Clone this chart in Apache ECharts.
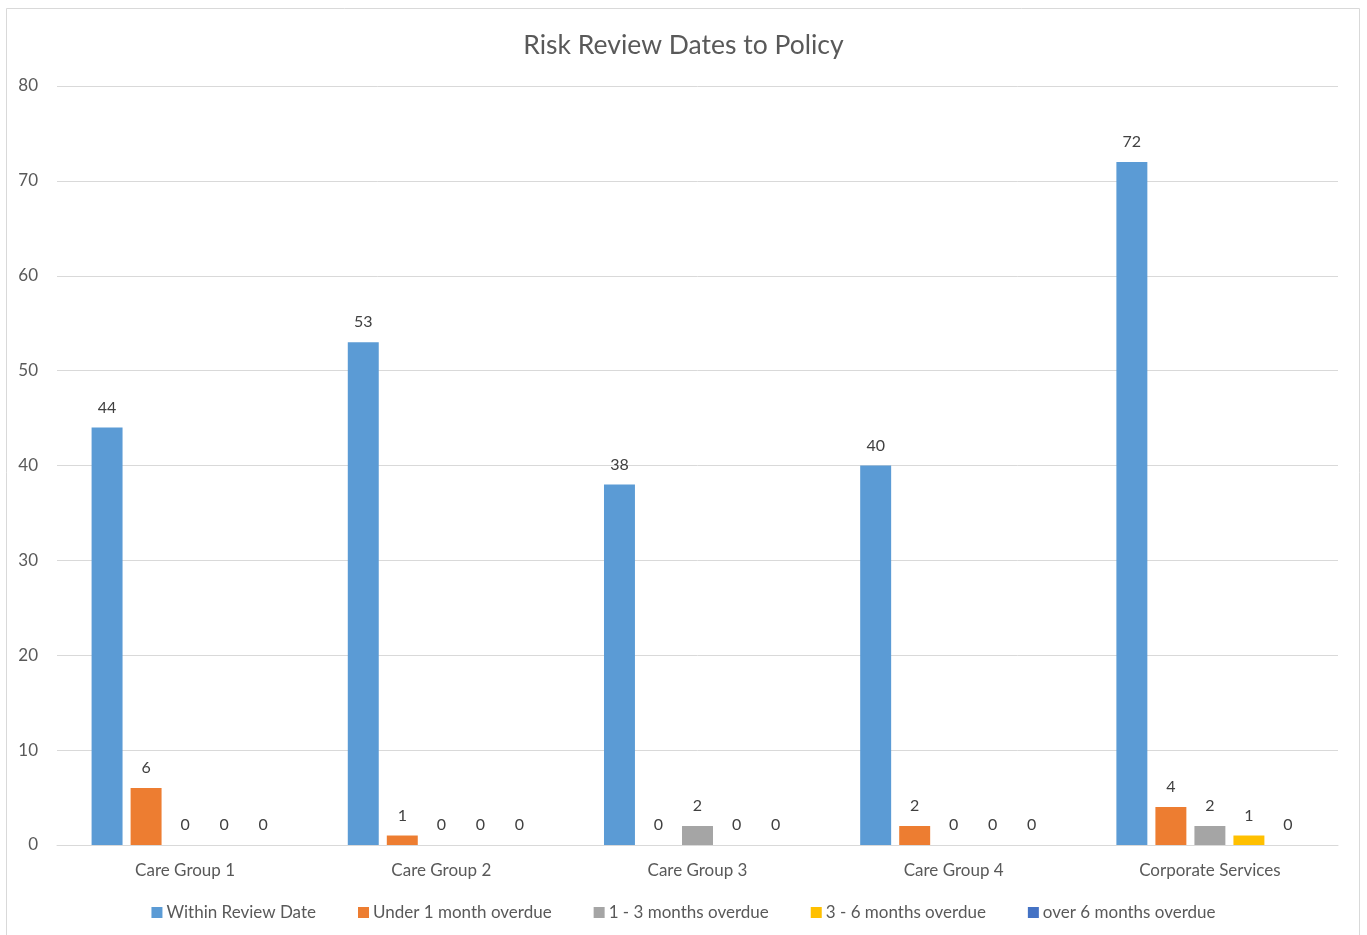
<!DOCTYPE html>
<html>
<head>
<meta charset="utf-8">
<title>Risk Review Dates to Policy</title>
<script src="https://cdn.jsdelivr.net/npm/echarts@6/dist/echarts.min.js"></script>
<style>
  html, body { margin: 0; padding: 0; background: #fff; }
  #chart { width: 1367px; height: 935px; }
</style>
</head>
<body>
<div id="chart"></div>
<script>
// data
const categories = ['Care Group 1', 'Care Group 2', 'Care Group 3', 'Care Group 4', 'Corporate Services'];
const seriesNames = ['Within Review Date', 'Under 1 month overdue', '1 - 3 months overdue', '3 - 6 months overdue', 'over 6 months overdue'];
const withinReview = [44, 53, 38, 40, 72];
const underOneMonth = [6, 1, 0, 2, 4];
const oneToThree = [0, 0, 2, 0, 2];
const threeToSix = [0, 0, 0, 0, 1];
const overSix = [0, 0, 0, 0, 0];
const yTicks = [0, 10, 20, 30, 40, 50, 60, 70, 80];

const colors = ['#5B9BD5', '#ED7D31', '#A5A5A5', '#FFC000', '#4472C4'];
const fontFamily = 'Lato, "Noto Sans", sans-serif';
const allValues = [withinReview, underOneMonth, oneToThree, threeToSix, overSix];

const chart = echarts.init(document.getElementById('chart'));

chart.setOption({
  backgroundColor: '#fff',
  color: colors,
  textStyle: { fontFamily: fontFamily },
  title: {
    text: 'Risk Review Dates to Policy',
    left: 'center',
    top: 27,
    textStyle: { fontSize: 26.5, fontWeight: 'normal', color: '#595959', fontFamily: fontFamily }
  },
  graphic: [{
    type: 'rect',
    shape: { x: 6.5, y: 8.5, width: 1353, height: 940 },
    style: { fill: 'none', stroke: '#d9d9d9', lineWidth: 1 },
    silent: true
  }],
  legend: {
    bottom: 9,
    left: 'center',
    itemWidth: 11,
    itemHeight: 11,
    itemGap: 42,
    icon: 'rect',
    textStyle: { fontSize: 17, color: '#595959', padding: [0, 0, 0, -1] },
    data: seriesNames
  },
  grid: { left: 57, right: 29, top: 86, bottom: 90, containLabel: false },
  xAxis: {
    type: 'category',
    data: categories,
    axisLine: { lineStyle: { color: '#d9d9d9', width: 1 } },
    axisTick: { show: false },
    axisLabel: { fontSize: 17, color: '#595959', margin: 17 }
  },
  yAxis: {
    type: 'value',
    min: yTicks[0],
    max: yTicks[yTicks.length - 1],
    interval: 10,
    axisLine: { show: false },
    axisTick: { show: false },
    splitLine: { lineStyle: { color: '#d9d9d9', width: 1 } },
    axisLabel: { fontSize: 17, color: '#595959', margin: 19 }
  },
  series: seriesNames.map((name, i) => ({
    name: name,
    type: 'bar',
    data: allValues[i],
    barGap: '26%',
    barCategoryGap: '27%',
    label: {
      show: true,
      position: 'top',
      distance: 12,
      fontSize: 16,
      color: '#404040'
    }
  }))
});

window.addEventListener('resize', () => chart.resize());
</script>
</body>
</html>
